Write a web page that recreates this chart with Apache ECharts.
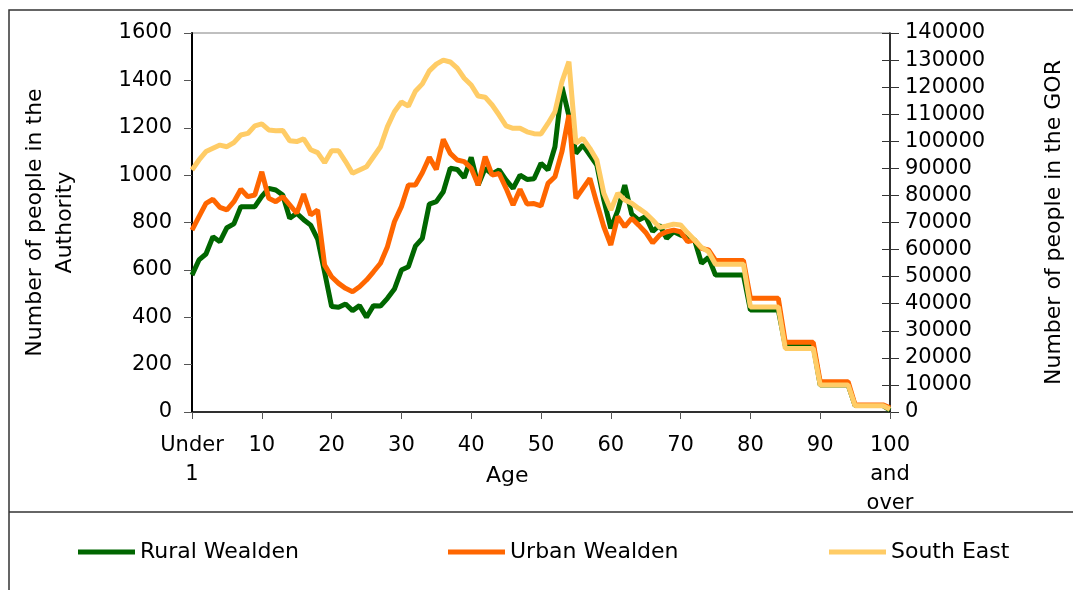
<!DOCTYPE html>
<html>
<head>
<meta charset="utf-8">
<script src="https://cdn.jsdelivr.net/npm/echarts@6/dist/echarts.min.js"></script>
<style>
  html, body { margin: 0; padding: 0; background: #fff; }
  #chart { width: 1073px; height: 590px; }
</style>
</head>
<body>
<div id="chart"></div>
<script>
// age labels: Under 1, 1 .. 99, 100 and over
const ageLabels = Array.from({ length: 101 }, (_, i) =>
  i === 0 ? 'Under 1' : i === 100 ? '100 and over' : String(i))

const leftTicks = [0, 1600, 200]      // min, max, step (Authority)
const rightTicks = [0, 140000, 10000] // min, max, step (GOR)

const ruralWealden = [
  578, 642, 667, 740, 719, 778, 794, 867, 867, 867,
  910, 944, 937, 916, 818, 839, 812, 789, 730, 590,
  445, 442, 456, 428, 449, 400, 449, 447, 480, 519,
  599, 613, 700, 733, 878, 888, 930, 1029, 1024, 989,
  1075, 958, 1029, 1005, 1022, 979, 944, 1000, 982, 985,
  1050, 1022, 1120, 1373, 1250, 1092, 1127, 1085, 1043, 895,
  775, 850, 958, 835, 810, 825, 762, 789, 733, 761,
  747, 737, 726, 628, 653, 578, 578, 578, 578, 578,
  431, 431, 431, 431, 431, 280, 280, 280, 280, 280,
  114, 114, 114, 114, 114, 27, 27, 27, 27, 27,
  8
]

const urbanWealden = [
  768, 825, 881, 898, 864, 853, 888, 940, 909, 916,
  1014, 902, 888, 909, 874, 839, 920, 832, 853, 620,
  571, 543, 522, 508, 529, 557, 592, 628, 698, 803,
  867, 958, 958, 1010, 1075, 1024, 1151, 1092, 1064, 1057,
  1029, 958, 1078, 1000, 1007, 944, 874, 940, 878, 880,
  870, 965, 993, 1099, 1254, 902, 944, 986, 881, 782,
  705, 825, 782, 818, 789, 758, 714, 747, 761, 768,
  761, 719, 726, 691, 684, 640, 640, 640, 640, 640,
  480, 480, 480, 480, 480, 294, 294, 294, 294, 294,
  128, 128, 128, 128, 128, 30, 30, 30, 30, 30,
  18
]

const southEast = [
  89400, 93100, 96200, 97400, 98600, 98000, 99500, 102300, 102900, 105700,
  106400, 104200, 103900, 104000, 100200, 99900, 100900, 96900, 95800, 92100,
  96500, 96500, 92500, 88200, 89400, 90600, 94300, 98000, 105400, 110900,
  114500, 113000, 118500, 121200, 126000, 128500, 130000, 129300, 127000, 123300,
  120800, 116700, 116300, 113400, 109700, 105700, 104800, 104800, 103500, 102800,
  102700, 106600, 110900, 122000, 129400, 99300, 101100, 97400, 93100, 80800,
  74600, 80800, 78300, 77100, 75200, 73400, 70900, 68200, 68700, 69400,
  69100, 66200, 63500, 60800, 59200, 54600, 54600, 54600, 54600, 54600,
  38800, 38800, 38800, 38800, 38800, 23500, 23500, 23500, 23500, 23500,
  10000, 10000, 10000, 10000, 10000, 2300, 2300, 2300, 2300, 2300,
  1000
]

const FONT = 'DejaVu Sans'
const chart = echarts.init(document.getElementById('chart'))

const lineSeries = (name, data, color, yIdx) => ({
  name,
  type: 'line',
  yAxisIndex: yIdx,
  data,
  showSymbol: false,
  symbol: 'none',
  lineStyle: { width: 5, color },
  itemStyle: { color },
  animation: false
})

const legendItem = (name, left) => ({
  data: [name],
  left,
  top: 541,
  padding: 0,
  icon: 'rect',
  itemWidth: 57,
  itemHeight: 5,
  itemGap: 0,
  textStyle: { fontFamily: FONT, fontSize: 22, color: '#000' }
})

chart.setOption({
  animation: false,
  grid: {
    left: 192, right: 183, top: 33, bottom: 178,
    containLabel: false,
    outerBoundsMode: 'none',
    show: true, borderColor: '#808080', borderWidth: 1
  },
  legend: [
    legendItem('Rural Wealden', 78),
    legendItem('Urban Wealden', 448),
    legendItem('South East', 829)
  ],
  xAxis: {
    type: 'category',
    data: ageLabels,
    boundaryGap: false,
    axisLine: { lineStyle: { color: '#000', width: 1.5 } },
    axisTick: { interval: 9, length: 7, lineStyle: { color: '#555' } },
    axisLabel: {
      interval: 9,
      margin: 19,
      fontFamily: FONT,
      fontSize: 21,
      lineHeight: 29,
      color: '#000',
      formatter: v => v.replace(/ /g, '\n')
    }
  },
  yAxis: [
    {
      type: 'value',
      min: leftTicks[0], max: leftTicks[1], interval: leftTicks[2],
      position: 'left',
      name: 'Number of people in the\nAuthority',
      nameLocation: 'middle',
      nameGap: 112,
      nameRotate: 90,
      nameTextStyle: { fontFamily: FONT, fontSize: 22, lineHeight: 30, color: '#000' },
      splitLine: { show: false },
      axisLine: { show: true, lineStyle: { color: '#000', width: 2 } },
      axisTick: { show: true, length: 8, lineStyle: { color: '#555' } },
      axisLabel: { margin: 20, fontFamily: FONT, fontSize: 21, color: '#000', formatter: v => String(v) }
    },
    {
      type: 'value',
      min: rightTicks[0], max: rightTicks[1], interval: rightTicks[2],
      position: 'right',
      name: 'Number of people in the GOR',
      nameLocation: 'middle',
      nameGap: 153,
      nameRotate: 90,
      nameTextStyle: { fontFamily: FONT, fontSize: 22, color: '#000' },
      splitLine: { show: false },
      axisLine: { show: true, lineStyle: { color: '#000', width: 1.5 } },
      axisTick: { show: true, length: 9, lineStyle: { color: '#333' } },
      axisLabel: { margin: 15, fontFamily: FONT, fontSize: 21, color: '#000', formatter: v => String(v) }
    },
    {
      // inner half of the crossing ticks on the GOR axis
      type: 'value',
      min: rightTicks[0], max: rightTicks[1], interval: rightTicks[2],
      position: 'right',
      splitLine: { show: false },
      axisLine: { show: false },
      axisTick: { show: true, inside: true, length: 8, lineStyle: { color: '#333' } },
      axisLabel: { show: false }
    }
  ],
  graphic: [
    {
      type: 'polyline',
      shape: { points: [[1080, 10], [9, 10], [9, 600]] },
      style: { stroke: '#333', lineWidth: 1.5, fill: null },
      silent: true
    },
    {
      type: 'line',
      shape: { x1: 9, y1: 512, x2: 1080, y2: 512 },
      style: { stroke: '#333', lineWidth: 1.5 },
      silent: true
    },
    {
      type: 'text',
      left: 486, top: 465,
      style: { text: 'Age', font: '22px "DejaVu Sans"', fill: '#000' }
    }
  ],
  series: [
    lineSeries('Rural Wealden', ruralWealden, '#006600', 0),
    lineSeries('Urban Wealden', urbanWealden, '#FF6600', 0),
    lineSeries('South East', southEast, '#FFCC66', 1)
  ]
})
</script>
</body>
</html>
